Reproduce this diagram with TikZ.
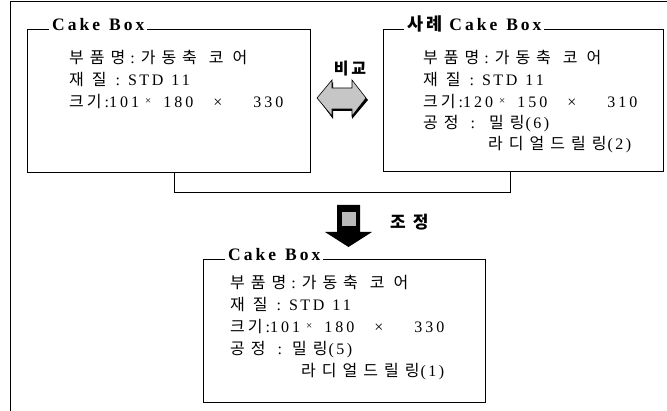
\documentclass[tikz,border=0pt]{standalone}
\usepackage{fontspec}
\setmainfont{Liberation Serif}
\newfontfamily\kr{Noto Sans CJK KR}
\makeatletter
\newcommand\ls[2][6pt]{\@tfor\ls@c:=#2\do{\ls@c\kern#1\relax}\unkern}
\makeatother
\newcommand{\kk}[2][6pt]{{\kr\ls[#1]{#2}}}
\newcommand{\nn}[1]{\ls[2.5pt]{#1}}
\newcommand{\dd}[1]{\ls[3pt]{#1}}
\newcommand{\smx}{\raisebox{3.5pt}{\fontsize{11}{11}\selectfont ×}}
\newcommand{\dims}[3]{\dd{#1}\hspace{6pt}\smx\hspace{12pt}\dd{#2}\hspace{20pt}×\hspace{31pt}\dd{#3}}
\newcommand{\cb}{\ls[3pt]{Cake}\hspace{9pt}\ls[3pt]{Box}}
\newcommand{\lnA}{\kk{부품명}\hspace{5pt}:\hspace{6pt}\kk{가동축}\hspace{12pt}\kk[9pt]{코어}}
\newcommand{\lnB}{\kk[8pt]{재질}\hspace{9pt}:\hspace{8pt}\nn{STD}\hspace{8pt}\nn{11}}
\newcommand{\lnC}{\kk[3pt]{크기}\hspace{3pt}:}
\newcommand{\lnD}{\kk{공정}\hspace{12pt}:}
\begin{document}
\begin{tikzpicture}[x=1pt,y=-1pt,
  boxst/.style={draw, line width=0.7pt, minimum width=#1, inner sep=0pt, anchor=north west},
  titlest/.style={fill=white, inner xsep=3pt, inner ysep=1pt, anchor=base west, font=\bfseries\fontsize{17.5}{20}\selectfont},
  bodyst/.style={inner sep=0pt, anchor=base west, font=\fontsize{16}{19}\selectfont},
  tagst/.style={inner sep=0pt, anchor=center, font=\kr\bfseries\fontsize{16}{18}\selectfont}]
\useasboundingbox (0,0) rectangle (667,411);
% outer frame
\draw[line width=0.9pt] (10,411) -- (10,1.5) -- (667,1.5);
% boxes
\node[boxst=283pt, minimum height=143pt] (lbox) at (27,29) {};
\node[boxst=280pt, minimum height=142pt] (rbox) at (383,29) {};
\node[boxst=282pt, minimum height=143pt] (bbox) at (203,259) {};
% titles
\node[titlest] (lt) at (49,31) {\cb};
\node[titlest] (rt) at (404,31) {{\kr\ls[3pt]{사례}}\hspace{7pt}\cb};
\node[titlest] (bt) at (225,261) {\cb};
% left box text
\node[bodyst] (l1) at (69,64) {\lnA};
\node[bodyst] (l2) at (69,86) {\lnB};
\node[bodyst] (l3) at (69,108) {\lnC\dims{101}{180}{330}};
% right box text
\node[bodyst] (r1) at (423,64) {\lnA};
\node[bodyst] (r2) at (423,86) {\lnB};
\node[bodyst] (r3) at (423,108) {\lnC\dims{120}{150}{310}};
\node[bodyst] (r4) at (423,129) {\lnD};
\node[bodyst] (r4b) at (489,129) {\kk{밀링}\kern1pt\nn{(6)}};
\node[bodyst] (r5) at (488,150) {\kk{라디얼드릴링}\kern1pt\nn{(2)}};
% bottom box text
\node[bodyst] (b1) at (230,289) {\lnA};
\node[bodyst] (b2) at (230,311) {\lnB};
\node[bodyst] (b3) at (230,333) {\lnC\dims{101}{180}{330}};
\node[bodyst] (b4) at (230,355) {\lnD};
\node[bodyst] (b4b) at (292,355) {\kk{밀링}\kern1pt\nn{(5)}};
\node[bodyst] (b5) at (301,377) {\kk{라디얼드릴링}\kern1pt\nn{(1)}};
% connector between upper boxes
\draw[line width=0.7pt] ([xshift=5pt]lbox.south) -- ++(0,20) -| ([xshift=-13pt]rbox.south);
% comparison double arrow
\fill[black] (319,100) -- (333,82) -- (333,90) -- (352,90) -- (352,82) -- (368,100) -- (352,119) -- (352,111) -- (333,111) -- (333,119) -- cycle;
\draw[fill=gray!45, line width=0.6pt] (317,98) -- (332,80) -- (332,88) -- (352,88) -- (352,80) -- (366,98) -- (352,116) -- (352,109) -- (332,109) -- (332,116) -- cycle;
\node[tagst] (cmp) at (350,69) {\ls[3pt]{비교}};
% adjust down arrow
\fill[black] (337,205) -- (360,205) -- (360,232) -- (372,232) -- (348.5,247) -- (325,232) -- (337,232) -- cycle;
\fill[gray!55] (342,212) rectangle (356,226);
\node[tagst, anchor=west, font=\kr\bfseries\fontsize{17}{18}\selectfont] (adj) at (390,222) {\ls[7pt]{조정}};
\end{tikzpicture}
\end{document}
